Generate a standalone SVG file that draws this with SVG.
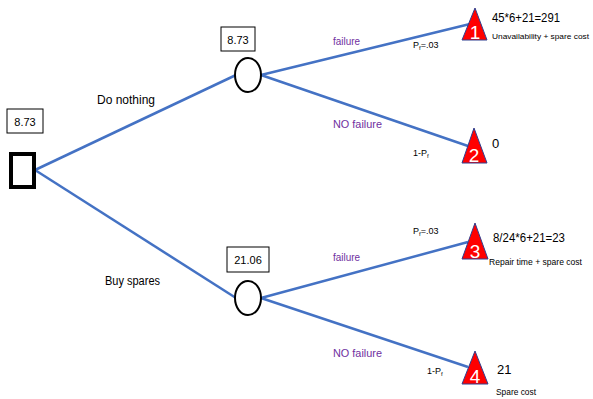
<svg xmlns="http://www.w3.org/2000/svg" width="593" height="399" viewBox="0 0 593 399">
<style>
.ln{stroke:#4472C4;stroke-width:2.5;fill:none}
.box{fill:#fff;stroke:#000;stroke-width:1}
.t{font-family:"Liberation Sans",Arial,sans-serif;fill:#000}
.p{font-family:"Liberation Sans",Arial,sans-serif;fill:#7030A0;font-size:11px}
.tri{fill:#FF0000;stroke:#2F3F8F;stroke-width:1}
.n{font-family:"Liberation Sans",Arial,sans-serif;fill:#fff;font-size:19px;text-anchor:middle}
.ch{fill:#fff;stroke:#000;stroke-width:2}
</style>
<g id="connectors">
<line class="ln" x1="35" y1="170" x2="236" y2="75"/>
<line class="ln" x1="35" y1="170" x2="236" y2="298"/>
<line class="ln" x1="261" y1="75" x2="470" y2="24"/>
<line class="ln" x1="261" y1="75" x2="468" y2="146"/>
<line class="ln" x1="261" y1="298" x2="468" y2="242"/>
<line class="ln" x1="261" y1="298" x2="468" y2="367"/>
<text class="t" x="97" y="104" font-size="12" textLength="58" lengthAdjust="spacingAndGlyphs">Do nothing</text>
<text class="t" x="105" y="285" font-size="12" textLength="55" lengthAdjust="spacingAndGlyphs">Buy spares</text>
<text class="p" x="333" y="45" textLength="27" lengthAdjust="spacingAndGlyphs">failure</text>
<text class="p" x="333" y="128" textLength="49" lengthAdjust="spacingAndGlyphs">NO failure</text>
<text class="p" x="333" y="261" textLength="27" lengthAdjust="spacingAndGlyphs">failure</text>
<text class="p" x="333" y="357" textLength="49" lengthAdjust="spacingAndGlyphs">NO failure</text>
<text class="t" x="413" y="48" font-size="9">P<tspan font-size="6" dy="2">f</tspan><tspan dy="-2">=.03</tspan></text>
<text class="t" x="413" y="156" font-size="9">1-P<tspan font-size="6" dy="2">f</tspan></text>
<text class="t" x="413" y="234" font-size="9">P<tspan font-size="6" dy="2">f</tspan><tspan dy="-2">=.03</tspan></text>
<text class="t" x="427" y="374" font-size="9">1-P<tspan font-size="6" dy="2">f</tspan></text>
</g>
<g id="decision">
<rect x="11" y="154" width="23" height="33" fill="#fff" stroke="#000" stroke-width="4"/>
<rect class="box" x="7" y="109" width="36" height="24"/>
<text class="t" x="25" y="126" font-size="11" text-anchor="middle">8.73</text>
</g>
<g id="chance1">
<ellipse class="ch" cx="248" cy="75" rx="13" ry="17"/>
<rect class="box" x="221" y="27" width="34" height="24"/>
<text class="t" x="238" y="44" font-size="11" text-anchor="middle">8.73</text>
</g>
<g id="chance2">
<ellipse class="ch" cx="248" cy="298" rx="13" ry="17"/>
<rect class="box" x="227" y="247" width="42" height="25"/>
<text class="t" x="248" y="264" font-size="11" text-anchor="middle">21.06</text>
</g>
<g id="end1">
<polygon class="tri" points="475,8 487,40 462,40"/>
<text class="n" x="475" y="39">1</text>
<text class="t" x="492" y="22" font-size="13" textLength="68" lengthAdjust="spacingAndGlyphs">45*6+21=291</text>
<text class="t" x="492" y="39" font-size="8" textLength="97" lengthAdjust="spacingAndGlyphs">Unavailability + spare cost</text>
</g>
<g id="end2">
<polygon class="tri" points="474,128 487,163 462,163"/>
<text class="n" x="474" y="162">2</text>
<text class="t" x="492" y="148" font-size="13">0</text>
</g>
<g id="end3">
<polygon class="tri" points="475,223 488,259 462,259"/>
<text class="n" x="475" y="258">3</text>
<text class="t" x="493" y="242" font-size="13" textLength="72" lengthAdjust="spacingAndGlyphs">8/24*6+21=23</text>
<text class="t" x="489" y="265" font-size="9" textLength="93" lengthAdjust="spacingAndGlyphs">Repair time + spare cost</text>
</g>
<g id="end4">
<polygon class="tri" points="475,351 488,384 462,384"/>
<text class="n" x="475" y="383">4</text>
<text class="t" x="497" y="374" font-size="13">21</text>
<text class="t" x="496" y="395" font-size="9" textLength="40" lengthAdjust="spacingAndGlyphs">Spare cost</text>
</g>
</svg>
